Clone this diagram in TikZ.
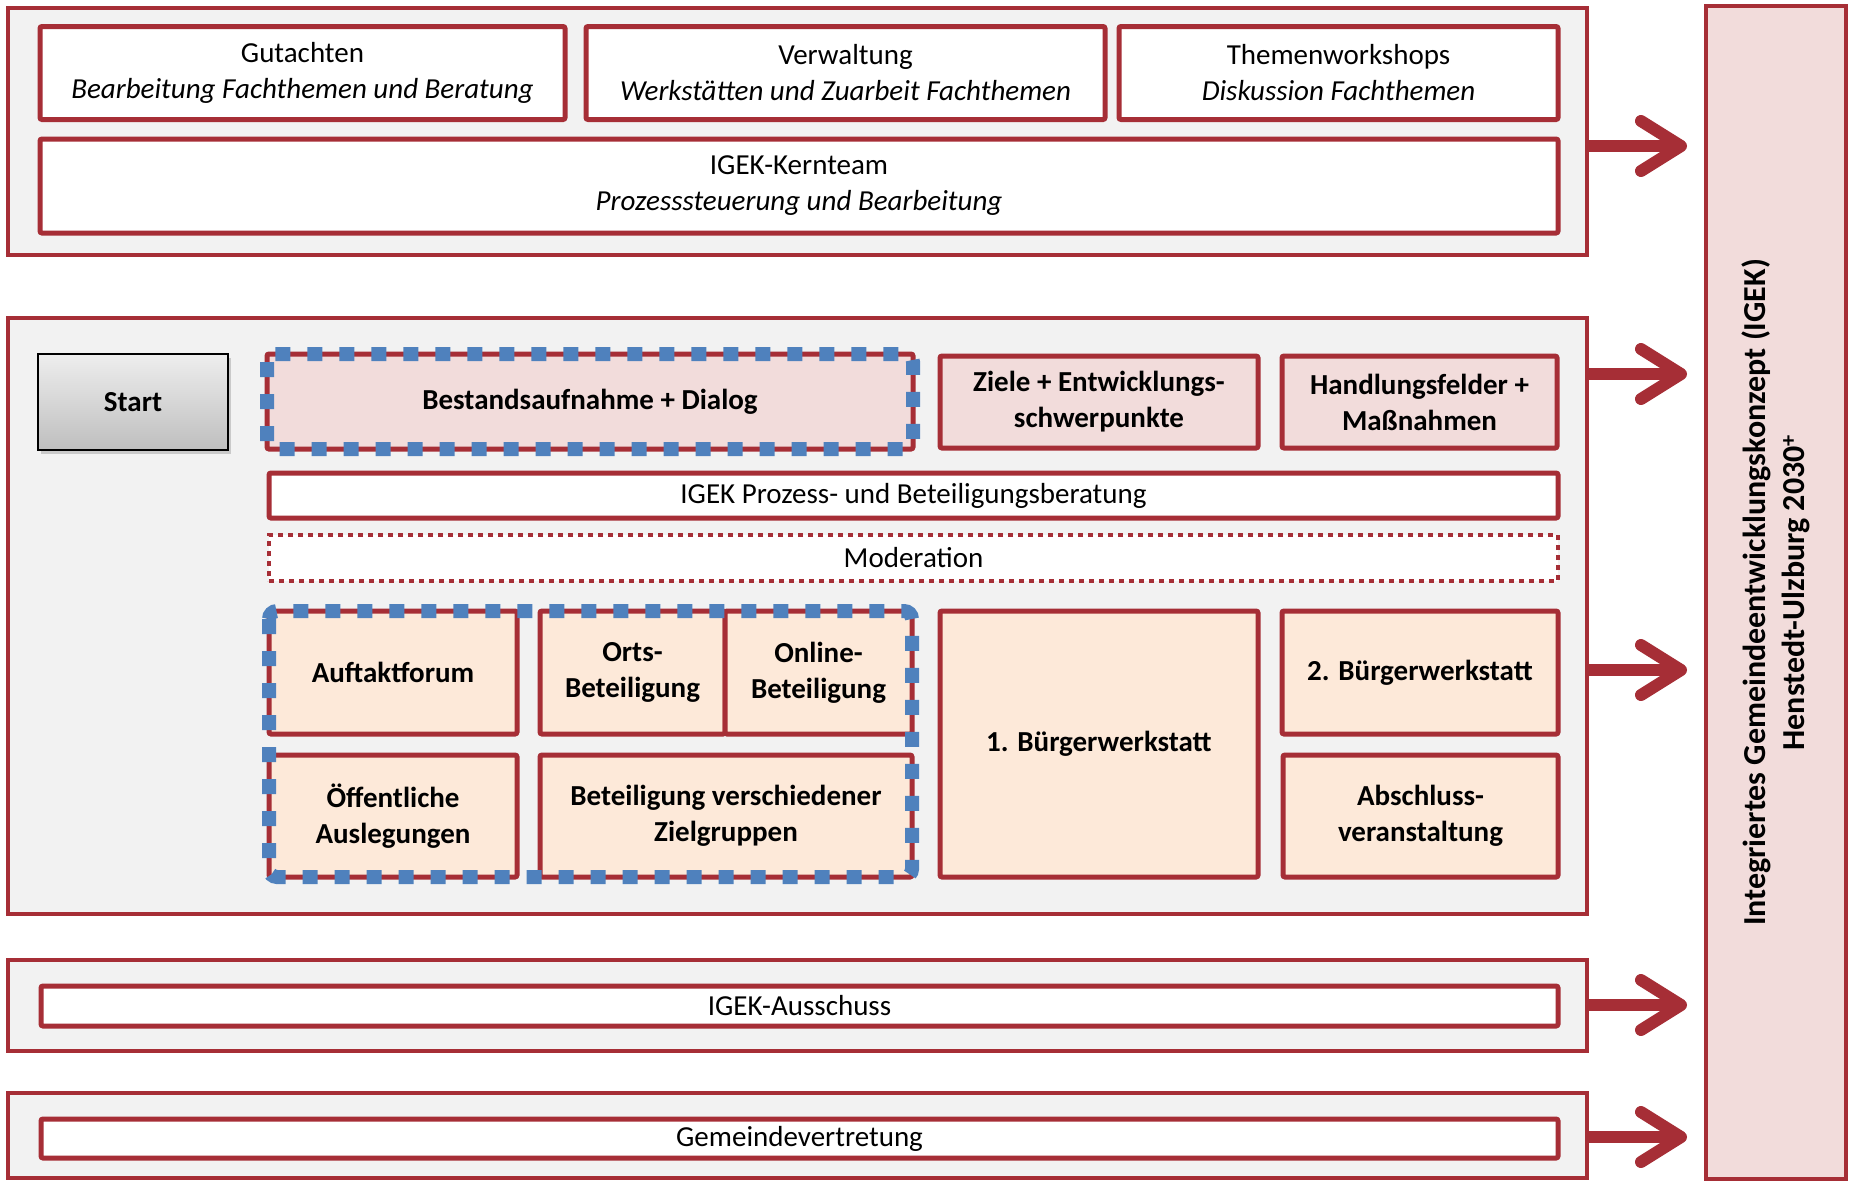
\documentclass[tikz,border=0pt]{standalone}
\usepackage{fontspec}
\setmainfont{Carlito}
\usetikzlibrary{arrows.meta,shadows}

\definecolor{igekred}{RGB}{166,46,54}
\definecolor{panelgrey}{RGB}{242,242,242}
\definecolor{phasepink}{RGB}{242,220,219}
\definecolor{eventpeach}{RGB}{253,233,217}
\definecolor{dialogblue}{RGB}{79,129,189}
\definecolor{startlight}{RGB}{238,238,238}
\definecolor{startdark}{RGB}{190,190,190}

\newcommand{\boxfont}{\fontsize{29}{36}\selectfont}

\tikzset{
  panel/.style={draw=igekred, line width=4pt, fill=panelgrey, inner sep=0pt},
  infobox/.style={draw=igekred, line width=5pt, fill=white, rounded corners=2pt,
    align=center, inner sep=0pt, outer sep=0pt, font=\boxfont},
  phasebox/.style={infobox, fill=phasepink, font=\boxfont\bfseries},
  eventbox/.style={infobox, fill=eventpeach, font=\boxfont\bfseries},
  dialogline/.style={draw=dialogblue, line width=14pt, dash pattern=on 15pt off 17pt},
  modbox/.style={infobox, rounded corners=0pt, line width=4pt, dash pattern=on 5pt off 5pt},
  startbox/.style={draw=black, line width=2pt, top color=startlight, bottom color=startdark,
    inner sep=0pt, font=\boxfont\bfseries,
    drop shadow={shadow xshift=3pt, shadow yshift=-4pt, opacity=0.35}},
  flowarrow/.style={draw=igekred, line width=12pt,
    -{Straight Barb[length=40pt, width=50pt, round]}, shorten >=17pt}
}

\begin{document}
\begin{tikzpicture}[x=1pt, y=-1pt]
    \fill[white] (0, 0) rectangle (1849, 1181);
    \useasboundingbox (0, 0) rectangle (1849, 1181);

    % Arbeitsebene
    \node[panel, minimum width=1579pt, minimum height=247pt] (toppanel) at (797.5, 131.5) {};
    \node[infobox, minimum width=525pt, minimum height=93pt] (gutachten) at (302.5, 73)
        {Gutachten\\\textit{Bearbeitung Fachthemen und Beratung}};
    \node[infobox, minimum width=519pt, minimum height=93pt] (verwaltung) at (845.5, 73)
        {Verwaltung\\\textit{Werkstätten und Zuarbeit Fachthemen}};
    \node[infobox, minimum width=439pt, minimum height=93pt] (workshops) at (1338.5, 73)
        {Themenworkshops\\\textit{Diskussion Fachthemen}};
    \node[infobox, minimum width=1518pt, minimum height=94pt] (kernteam) at (799, 186)
        {IGEK-Kernteam\\\textit{Prozesssteuerung und Bearbeitung}};

    % Prozess und Beteiligung
    \node[panel, minimum width=1579pt, minimum height=596pt] (mainpanel) at (797.5, 616) {};
    \node[startbox, minimum width=190pt, minimum height=96pt] (start) at (133, 402) {Start};
    \node[phasebox, minimum width=646pt, minimum height=95pt] (bestand) at (590, 401.5)
        {Bestandsaufnahme + Dialog};
    \node[phasebox, minimum width=318pt, minimum height=92pt] (ziele) at (1099, 402)
        {Ziele + Entwicklungs-\\schwerpunkte};
    \node[phasebox, minimum width=275pt, minimum height=92pt] (handlung) at (1419.5, 402)
        {Handlungsfelder +\\Maßnahmen};
    \node[infobox, minimum width=1289pt, minimum height=45pt] (beratung) at (913.5, 495.5)
        {IGEK Prozess- und Beteiligungsberatung};
    \node[modbox, minimum width=1289pt, minimum height=46pt] (moderation) at (913.5, 558)
        {Moderation};

    \node[eventbox, minimum width=248pt, minimum height=123pt] (auftakt) at (393, 672.5) {Auftaktforum};
    \node[eventbox, minimum width=185pt, minimum height=123pt] (orts) at (632.5, 672.5) {Orts-\\Beteiligung};
    \node[eventbox, minimum width=187pt, minimum height=123pt] (online) at (818.5, 672.5) {Online-\\Beteiligung};
    \node[eventbox, minimum width=248pt, minimum height=122pt] (auslegung) at (393, 816)
        {Öffentliche\\Auslegungen};
    \node[eventbox, minimum width=372pt, minimum height=122pt] (zielgruppen) at (726, 816)
        {Beteiligung verschiedener\\Zielgruppen};
    \node[eventbox, minimum width=318pt, minimum height=266pt] (werkstatt1) at (1099, 744)
        {1. Bürgerwerkstatt};
    \node[eventbox, minimum width=276pt, minimum height=123pt] (werkstatt2) at (1420, 672.5)
        {2. Bürgerwerkstatt};
    \node[eventbox, minimum width=275pt, minimum height=122pt] (abschluss) at (1420.5, 816)
        {Abschluss-\\veranstaltung};

    % Dialogphase
    \draw[dialogline, rounded corners=8pt] (bestand.north west) rectangle (bestand.south east);
    \draw[dialogline, rounded corners=8pt] (auftakt.north west) rectangle (zielgruppen.south east);

    % Gremien
    \node[panel, minimum width=1579pt, minimum height=91pt] (ausschusspanel) at (797.5, 1005.5) {};
    \node[infobox, minimum width=1517pt, minimum height=40pt] (ausschuss) at (799.5, 1006) {IGEK-Ausschuss};
    \node[panel, minimum width=1579pt, minimum height=85pt] (gemeindepanel) at (797.5, 1135.5) {};
    \node[infobox, minimum width=1517pt, minimum height=39pt] (gemeinde) at (799.5, 1138.5) {Gemeindevertretung};

    % Ergebnis
    \node[draw=igekred, line width=4pt, fill=phasepink, rotate=90, align=center, inner sep=0pt,
        minimum width=1173pt, minimum height=140pt, font=\fontsize{32}{39}\selectfont\bfseries] (igek) at (1776, 592.5)
        {Integriertes Gemeindeentwicklungskonzept (IGEK)\\Henstedt-Ulzburg 2030\textsuperscript{+}};

    \foreach \src/\ay in {toppanel/146, mainpanel/374, mainpanel/670, ausschusspanel/1005, gemeindepanel/1137}
        \draw[flowarrow] (\src.east |- 0,\ay) -- (igek.north |- 0,\ay);
\end{tikzpicture}
\end{document}
